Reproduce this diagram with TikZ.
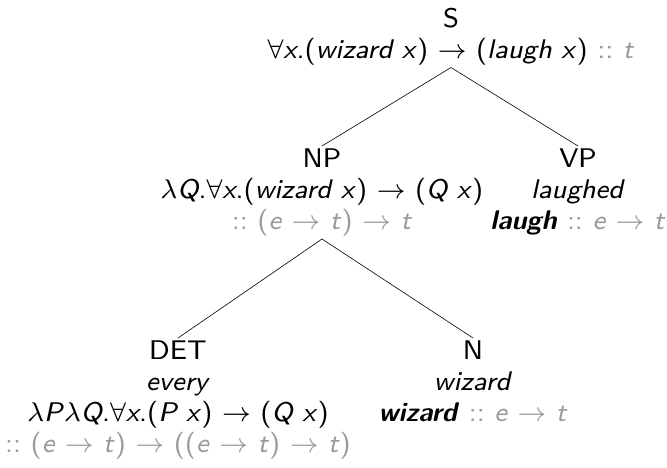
\documentclass[tikz,border=0pt]{standalone}
\usepackage{xcolor}
\definecolor{typegray}{HTML}{9A9A9A}
\newcommand{\tyg}[1]{\textcolor{typegray}{#1}}
\newcommand{\vi}[1]{\textit{#1}}
\newcommand{\dc}{\tyg{::}}
\tikzset{
  tnode/.style={align=center, anchor=north, inner sep=0.6pt,
    font=\fontsize{8}{9.2}\selectfont\sffamily, scale=3.375, transform shape},
  tedge/.style={draw=black, line width=0.6pt}
}
\begin{document}
\begin{tikzpicture}[x=1pt,y=1pt]
\useasboundingbox (0,-467) rectangle (667,0);
\node[tnode] (S) at (451,-5) {S\\ $\forall$\vi{x}.(\vi{wizard x}) $\to$ (\vi{laugh x}) \dc\ \tyg{\vi{t}}};
\node[tnode] (NP) at (322,-146) {NP\\ $\lambda$\vi{Q}.$\forall$\vi{x}.(\vi{wizard x}) $\to$ (\vi{Q\ x})\\ \dc\ \tyg{(\vi{e} $\to$ \vi{t}) $\to$ \vi{t}}};
\node[tnode] (VP) at (578,-146) {VP\\ \vi{laughed}\\ \textbf{\textit{laugh}} \dc\ \tyg{\vi{e} $\to$ \vi{t}}};
\node[tnode] (DET) at (178,-338) {DET\\ \vi{every}\\ $\lambda$\vi{P}$\lambda$\vi{Q}.$\forall$\vi{x}.(\vi{P\ x}) $\to$ (\vi{Q\ x})\\ \dc\ \tyg{(\vi{e} $\to$ \vi{t}) $\to$ ((\vi{e} $\to$ \vi{t}) $\to$ \vi{t})}};
\node[tnode] (N) at (473,-338) {N\\ \vi{wizard}\\ \textbf{\textit{wizard}} \dc\ \tyg{\vi{e} $\to$ \vi{t}}};
\draw[tedge] (S.south) -- (NP.north);
\draw[tedge] (S.south) -- (VP.north);
\draw[tedge] (NP.south) -- (DET.north);
\draw[tedge] (NP.south) -- (N.north);
\end{tikzpicture}
\end{document}
